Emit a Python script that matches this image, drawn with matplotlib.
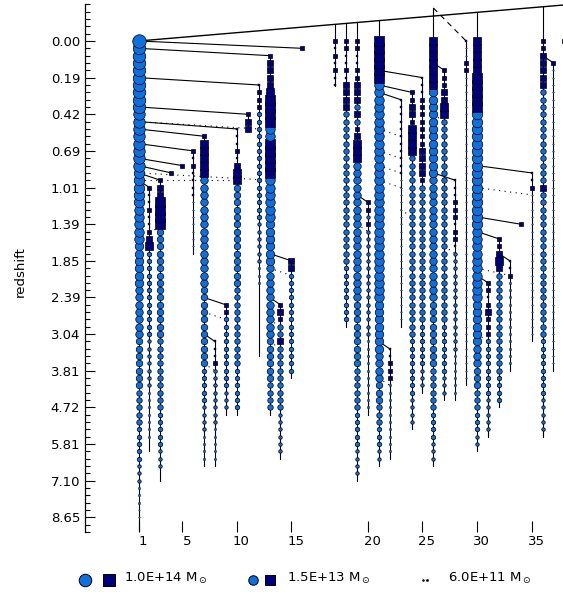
import matplotlib
matplotlib.use('Agg')
import matplotlib.pyplot as plt
import matplotlib.transforms as mtransforms

CIRCLE_COLOR = '#0f6fdc'
SQUARE_COLOR = '#00007a'

# y axis = snapshot number, a redshift label every 5 snapshots
Z_LABELS = ['0.00', '0.19', '0.42', '0.69', '1.01', '1.39', '1.85', '2.39',
            '3.04', '3.81', '4.72', '5.81', '7.10', '8.65']
X_TICK_POS = [1, 5, 10, 15, 22, 27, 32, 37]
X_TICK_LABELS = ['1', '5', '10', '15', '20', '25', '30', '35']

# branches: column, first snapshot, end of the vertical line, marker codes
# code letter = size class (a smallest), lower case circle, upper case square,
# optional number = repeat count
BRANCH_COL = [1, 2, 3, 4, 5, 6, 7, 8, 9, 10, 11, 12, 13, 14, 15, 16,
              19, 20, 21, 22, 23, 24, 25, 26, 27, 28, 29, 30, 31, 32, 33,
              34, 35, 36, 37, 38, 39, 40]
BRANCH_TOP = [0, 20, 19, 18, 17, 15, 13, 41, 36, 12, 10, 6, 2, 36, 30, 1,
              0, 0, 0, 22, 0, 42, 8, 7, 5, 0, 4, 19, 0, 0, 33,
              27, 30, 25, 18, 0, 3, 0]
BRANCH_END = [67, 56, 60, 18, 17, 29, 58, 58, 51, 51, 12, 43, 51, 57, 46, 1,
              6.2, 39, 60, 51, 58, 57, 39, 53, 48, 58, 49, 49, 47, 56, 54,
              50, 45, 25, 41, 54, 45, 0]
BRANCH_MARKS = [
    'm l9 k8 j5 i5 h6 g7 f7 e5 d5 c3 b3 a2',
    'C B2 C B2 D F G d12 c7 b7',
    'C E F I4 f15 e10 d5 c3',
    'D',
    'D',
    'C B C B4 a7',
    'D H5 g15 f11 d5 c4 b4',
    'B3 D c8 b5',
    'C2 d10 c3',
    'B3 D B E G2 f14 e11 d6',
    'D E2',
    'B C3 d15 c6 b3',
    'D E3 F H J4 i2 J5 i6 h6 g10 f6 e4',
    'D F D e2 F e9 c6',
    'E2 d14',
    'D',
    'C B C B C B2',
    'D2 B2 D B E4 e21 d8',
    'D C B2 D C E3 e E e D E H3 g19 f9 e6 d5 c4',
    'C D c D c15 b10',
    'J6 i30 h7 g4 f3 e3 d3 c2',
    'B2 C3 b10',
    'B11 a20',
    'D2 E F D G4 e25 d8 c4',
    'B3 D3 C D3 E F2 E C e19 d6 c3',
    'H7 h12 g17 f9 e6 d4 c3',
    'C D2 E2 G2 e28 d7 c3',
    'B3 C3 B D C B c14 b6',
    'B a2 C2 a42',
    'H5 J5 j16 i10 h6 g3 f3 e3 d3 c2',
    'D2 B C E D C D d8 c5',
    'C D F G F e14 d4',
    'B2 C b12',
    'D',
    'B2 D a20',
    'C2 F5 e13 E e20 d8 c5',
    'C a41',
    'C',
]

# mergers: (descendant column, snapshot, progenitor column, snapshot)
SOLID_LINKS = [(1, 0, 16, 1), (1, 1, 13, 2), (1, 5, 12, 6), (1, 9, 11, 10),
               (1, 11, 10, 12), (1, 12, 7, 13), (1, 14, 6, 15), (1, 16, 5, 17),
               (1, 17, 4, 18), (1, 18, 3, 19), (1, 19, 2, 20),
               (7, 35, 9, 36), (7, 40, 8, 41), (13, 29, 15, 30), (13, 35, 14, 36),
               (21, 21, 22, 22), (23, 4, 27, 5), (23, 6, 26, 7), (23, 7, 25, 8),
               (23, 41, 24, 42), (28, 3, 29, 4), (28, 18, 30, 19),
               (32, 17, 37, 18), (32, 24, 36, 25), (32, 26, 34, 27),
               (32, 32, 33, 33), (34, 29, 35, 30), (38, 2, 39, 3)]
DOTTED_LINKS = [(1, 11, 12, 12), (1, 18, 13, 19), (1, 19, 10, 19), (1, 25, 3, 26),
                (7, 37, 9, 38), (7, 44, 8, 45), (13, 31, 15, 32), (13, 38, 14, 39),
                (13, 41, 14, 42), (21, 25, 22, 26), (23, 12, 25, 13),
                (23, 15, 25, 16), (23, 17, 25, 18), (23, 19, 25, 20),
                (23, 46, 24, 47), (25, 23, 26, 24), (28, 10, 29, 11),
                (29, 28, 30, 29), (32, 20, 37, 21), (32, 31, 35, 32),
                (32, 40, 33, 41)]

# line leaving the final halo, and the branches hanging from it
TOP_LINE_X = [1, 40]
TOP_LINE_Y = [0, -4.92]
TOP_LINKED_COLS = [19, 20, 21, 23, 32, 38]
DASHED_LINK = [(28, -4.5), (31, 0)]

LEGEND_MASS = ['1.0E+14', '1.5E+13', '6.0E+11']
LEGEND_SIZE = ['l', 'i', 'a']


def parse_marks(code):
    out = []
    for tok in code.split():
        n = int(tok[1:]) if len(tok) > 1 else 1
        out.extend([tok[0]] * n)
    return out


def marker_style(letter):
    d_px = 1.5 + (ord(letter.lower()) - ord('a'))
    size = d_px * 0.72
    mew = 0.25 if letter.lower() in 'ab' else 0.5
    if letter.isupper():
        return 's', SQUARE_COLOR, size, mew
    return 'o', CIRCLE_COLOR, size, mew


def top_line_at(x):
    t = (x - TOP_LINE_X[0]) / (TOP_LINE_X[1] - TOP_LINE_X[0])
    return TOP_LINE_Y[0] + t * (TOP_LINE_Y[1] - TOP_LINE_Y[0])


fig = plt.figure(figsize=(5.63, 5.92), dpi=100)
ax = fig.add_axes([85 / 563, 1 - 532 / 592, 1 - 85 / 563, (532 - 4.35) / 592])
ax.set_xlim(-3.9, 39.87)
ax.set_ylim(67, -5)

# branch lines
for col, top, end in zip(BRANCH_COL, BRANCH_TOP, BRANCH_END):
    if end > top:
        ax.plot([col, col], [top, end], color='black', lw=0.8, zorder=1)

for c0, s0, c1, s1 in SOLID_LINKS:
    ax.plot([c0, c1], [s0, s1], color='black', lw=0.8, zorder=1)
for c0, s0, c1, s1 in DOTTED_LINKS:
    ax.plot([c0, c1], [s0, s1], color='black', lw=0.8, ls=(0, (1, 4)), zorder=1)

ax.plot(TOP_LINE_X, TOP_LINE_Y, color='black', lw=1.0, zorder=1)
for col in TOP_LINKED_COLS:
    ax.plot([col, col], [0, top_line_at(col)], color='black', lw=0.8, zorder=1)
ax.plot([DASHED_LINK[0][0]] * 2, [0, DASHED_LINK[0][1]], color='black', lw=0.8, zorder=1)
ax.plot([p[0] for p in DASHED_LINK], [p[1] for p in DASHED_LINK],
        color='black', lw=0.8, ls=(0, (5, 4)), zorder=1)

# halos, drawn from high redshift upwards so the later ones sit on top
for col, top, code in zip(BRANCH_COL, BRANCH_TOP, BRANCH_MARKS):
    marks = parse_marks(code)
    for i in range(len(marks) - 1, -1, -1):
        m, fc, size, mew = marker_style(marks[i])
        ax.plot(col, top + i, marker=m, ms=size, mfc=fc, mec='black', mew=mew,
                ls='none', zorder=2, clip_on=True)

for side in ['top', 'right', 'bottom']:
    ax.spines[side].set_visible(False)
ax.spines['left'].set_linewidth(0.9)

ax.set_yticks(range(0, 5 * len(Z_LABELS), 5))
ax.set_yticklabels(Z_LABELS, fontsize=9.5)
ax.set_yticks(range(-5, 68), minor=True)
ax.tick_params(axis='y', which='major', direction='in', length=7.2, width=0.8, pad=3.5)
ax.tick_params(axis='y', which='minor', direction='in', length=3.6, width=0.8)

ax.set_xticks(X_TICK_POS)
ax.set_xticklabels(X_TICK_LABELS, fontsize=9.5)
ax.tick_params(axis='x', which='major', direction='in', length=8, width=0.8, pad=2)
offset = mtransforms.ScaledTranslation(0.045, 0, fig.dpi_scale_trans)
for lab in ax.get_xticklabels():
    lab.set_transform(lab.get_transform() + offset)

fig.text(20 / 563, 1 - 272 / 592, 'redshift', rotation=90, ha='center',
         va='center', fontsize=9.5)

# legend row, in pixel coordinates of the figure
lax = fig.add_axes([0, 0, 1, 1])
lax.set_xlim(0, 563)
lax.set_ylim(592, 0)
lax.axis('off')
leg_circle_x = [85, 253, 423]
leg_square_x = [108.5, 270, 427]
leg_text_x = [124, 287, 448]
for mass, size_code, cx, sx, tx in zip(LEGEND_MASS, LEGEND_SIZE, leg_circle_x,
                                       leg_square_x, leg_text_x):
    m, fc, size, mew = marker_style(size_code)
    lax.plot(cx, 579.5, marker='o', ms=size, mfc=CIRCLE_COLOR, mec='black', mew=0.7)
    lax.plot(sx, 579.5, marker='s', ms=size, mfc=SQUARE_COLOR, mec='black', mew=0.7)
    lax.text(tx, 581.7, mass + r' M$_\odot$', fontsize=9.5, ha='left', va='baseline')

fig.savefig('out.png', dpi=100)
